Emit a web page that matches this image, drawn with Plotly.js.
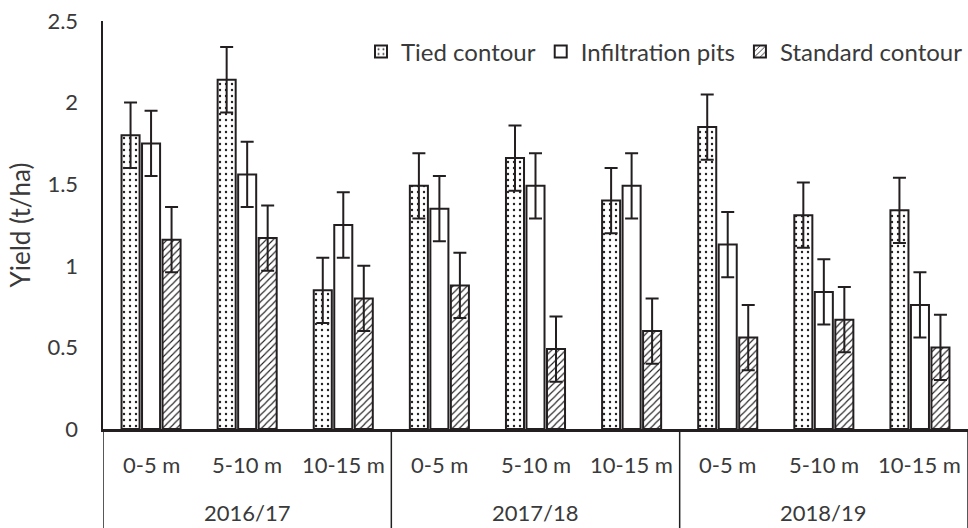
<!DOCTYPE html>
<html>
<head>
<meta charset="utf-8">
<script src="https://cdn.plot.ly/plotly-3.0.1.min.js"></script>
<style>html,body{margin:0;padding:0;background:#fff}#chart{width:968px;height:528px}</style>
</head>
<body>
<div id="chart"></div>
<script>
const years = ['2016/17', '2017/18', '2018/19'];
const distances = ['0-5 m', '5-10 m', '10-15 m'];
const seriesNames = ['Tied contour', 'Infiltration pits', 'Standard contour'];
const tiedContour = [1.80, 2.14, 0.85, 1.49, 1.66, 1.40, 1.85, 1.31, 1.34];
const infiltrationPits = [1.75, 1.56, 1.25, 1.35, 1.49, 1.49, 1.13, 0.84, 0.76];
const standardContour = [1.16, 1.17, 0.80, 0.88, 0.49, 0.60, 0.56, 0.67, 0.50];
const tiedErr = [0.2, 0.2, 0.2, 0.2, 0.2, 0.2, 0.2, 0.2, 0.2];
const infErr = [0.2, 0.2, 0.2, 0.2, 0.2, 0.2, 0.2, 0.2, 0.2];
const stdErr = [0.2, 0.2, 0.2, 0.2, 0.2, 0.2, 0.2, 0.2, 0.2];
const yTicks = [0, 0.5, 1, 1.5, 2, 2.5];
const yTickText = ['0', '0.5', '1', '1.5', '2', '2.5'];

// category keys (year + distance), built from the arrays above
const keys = [], keyDist = [], yearMid = [];
years.forEach(y => {
  distances.forEach((d, j) => {
    const k = y + ' | ' + d;
    keys.push(k); keyDist.push(d);
    if (j === 1) yearMid.push(k);
  });
});

const ink = '#231f20';
const txt = '#3a3a3a';
const font = 'Lato, "Open Sans", sans-serif';

function mk(name, vals, err, pattern) {
  return {
    type: 'bar', name: name, x: keys, y: vals,
    marker: { color: 'white', line: { color: ink, width: 2 }, pattern: pattern },
    error_y: { type: 'data', array: err, visible: true, color: ink, thickness: 2, width: 6.5 },
    hoverinfo: 'skip'
  };
}

const data = [
  mk(seriesNames[0], tiedContour, tiedErr, { shape: '.', fgcolor: ink, bgcolor: 'white', size: 6, solidity: 0.12 }),
  mk(seriesNames[1], infiltrationPits, infErr, { shape: '' }),
  mk(seriesNames[2], standardContour, stdErr, { shape: '/', fgcolor: ink, bgcolor: 'white', size: 5, solidity: 0.22 })
];

const plotTop = 21, plotBottom = 429, H = 528;
const plotH = plotBottom - plotTop;
const pyToPaper = py => (plotBottom - py) / plotH;

const annotations = [];
keys.forEach((k, i) => annotations.push({
  x: k, xref: 'x', y: pyToPaper(465), yref: 'paper', yanchor: 'middle', xanchor: 'center',
  text: keyDist[i], showarrow: false, font: { family: font, size: 22, color: txt }
}));
years.forEach((y, i) => annotations.push({
  x: yearMid[i], xref: 'x', y: pyToPaper(512), yref: 'paper', yanchor: 'middle', xanchor: 'center',
  text: y, showarrow: false, font: { family: font, size: 22, color: txt }
}));

const shapes = [];
[-0.5, 2.5, 5.5, 8.5].forEach(b => shapes.push({
  type: 'line', xref: 'x', yref: 'paper', x0: b, x1: b, y0: 0, y1: pyToPaper(H),
  line: { color: ink, width: 1.5 }
}));

const layout = {
  width: 968, height: 528,
  margin: { l: 103, r: 0, t: plotTop, b: H - plotBottom },
  paper_bgcolor: 'white', plot_bgcolor: 'white',
  font: { family: font, size: 22, color: txt },
  barmode: 'group', bargap: 0.36, bargroupgap: 0.12,
  showlegend: true,
  legend: {
    orientation: 'h', x: 1, xanchor: 'right', y: pyToPaper(52), yanchor: 'middle',
    font: { family: font, size: 24, color: txt }, itemwidth: 30, traceorder: 'normal',
    bgcolor: 'rgba(0,0,0,0)'
  },
  xaxis: {
    type: 'category', showline: true, linecolor: ink, linewidth: 2.5,
    showgrid: false, zeroline: false, ticks: '', showticklabels: false,
    range: [-0.5, 8.5]
  },
  yaxis: {
    range: [0, 2.5], tickvals: yTicks, ticktext: yTickText,
    showline: true, linecolor: ink, linewidth: 2.5, showgrid: false, zeroline: false,
    ticks: '', tickfont: { family: font, size: 22, color: txt },
    ticklabelstandoff: 18,
    title: { text: 'Yield (t/ha)', font: { family: font, size: 26, color: txt }, standoff: 10 }
  },
  annotations: annotations,
  shapes: shapes
};

Plotly.newPlot('chart', data, layout, { staticPlot: true, displayModeBar: false });
</script>
</body>
</html>
